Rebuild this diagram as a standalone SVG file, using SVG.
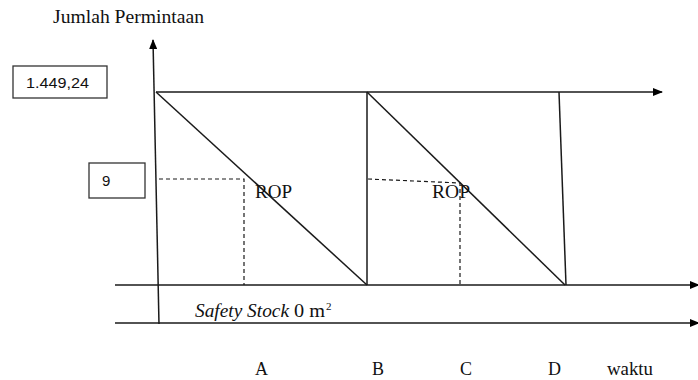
<svg xmlns="http://www.w3.org/2000/svg" width="698" height="380" viewBox="0 0 698 380">
<defs>
<style>
.ln{stroke:#1a1a1a;stroke-width:1.5;fill:none}
.ds{stroke:#1a1a1a;stroke-width:1.2;fill:none;stroke-dasharray:4 3}
.box{fill:#fff;stroke:#333;stroke-width:1.3}
.serif{font-family:"Liberation Serif","Times New Roman",serif;fill:#111}
.sans{font-family:"Liberation Sans",Arial,sans-serif;fill:#111}
</style>
<marker id="ah" markerWidth="10" markerHeight="8" refX="9" refY="4" orient="auto" markerUnits="userSpaceOnUse">
<path d="M0,0 L10,4 L0,8 Z" fill="#000"/>
</marker>
</defs>
<rect width="698" height="380" fill="#fff"/>
<g id="labels">
<text class="serif" x="53" y="23" font-size="18" textLength="151" lengthAdjust="spacingAndGlyphs">Jumlah Permintaan</text>
<text class="serif" x="195" y="317" font-size="18" font-style="italic" textLength="94" lengthAdjust="spacingAndGlyphs">Safety Stock</text>
<text class="serif" x="294" y="317" font-size="18" textLength="31" lengthAdjust="spacingAndGlyphs">0 m</text>
<text class="serif" x="326" y="310" font-size="11">2</text>
<text class="serif" x="255" y="375" font-size="18">A</text>
<text class="serif" x="372" y="375" font-size="18">B</text>
<text class="serif" x="460" y="375" font-size="18">C</text>
<text class="serif" x="548" y="375" font-size="18">D</text>
<text class="serif" x="607" y="375" font-size="18" textLength="46" lengthAdjust="spacingAndGlyphs">waktu</text>
</g>
<g id="box-max">
<rect class="box" x="13" y="66" width="94" height="32"/>
<text class="sans" x="26" y="88" font-size="15" textLength="63" lengthAdjust="spacingAndGlyphs">1.449,24</text>
</g>
<g id="box-rop">
<rect class="box" x="89" y="163" width="56" height="35"/>
<text class="sans" x="102" y="186" font-size="15">9</text>
</g>
<g id="connectors">
<line class="ln" x1="159" y1="324" x2="153" y2="40" marker-end="url(#ah)"/>
<line class="ln" x1="156" y1="92" x2="662" y2="92" marker-end="url(#ah)"/>
<line class="ln" x1="115" y1="285" x2="699" y2="285" marker-end="url(#ah)"/>
<line class="ln" x1="115" y1="323" x2="699" y2="323" marker-end="url(#ah)"/>
<line class="ln" x1="156" y1="92" x2="367" y2="285"/>
<line class="ln" x1="367" y1="92" x2="367" y2="285"/>
<line class="ln" x1="367" y1="92" x2="565" y2="285"/>
<line class="ln" x1="559" y1="92" x2="566" y2="285"/>
<polyline class="ds" points="159,179 244,179 244,285"/>
<polyline class="ds" points="368,179 460,183 460,285"/>
</g>
<g id="rop-labels">
<text class="serif" x="255" y="198" font-size="18" textLength="37" lengthAdjust="spacingAndGlyphs">ROP</text>
<text class="serif" x="432" y="198" font-size="18" textLength="38" lengthAdjust="spacingAndGlyphs">ROP</text>
</g>
</svg>
